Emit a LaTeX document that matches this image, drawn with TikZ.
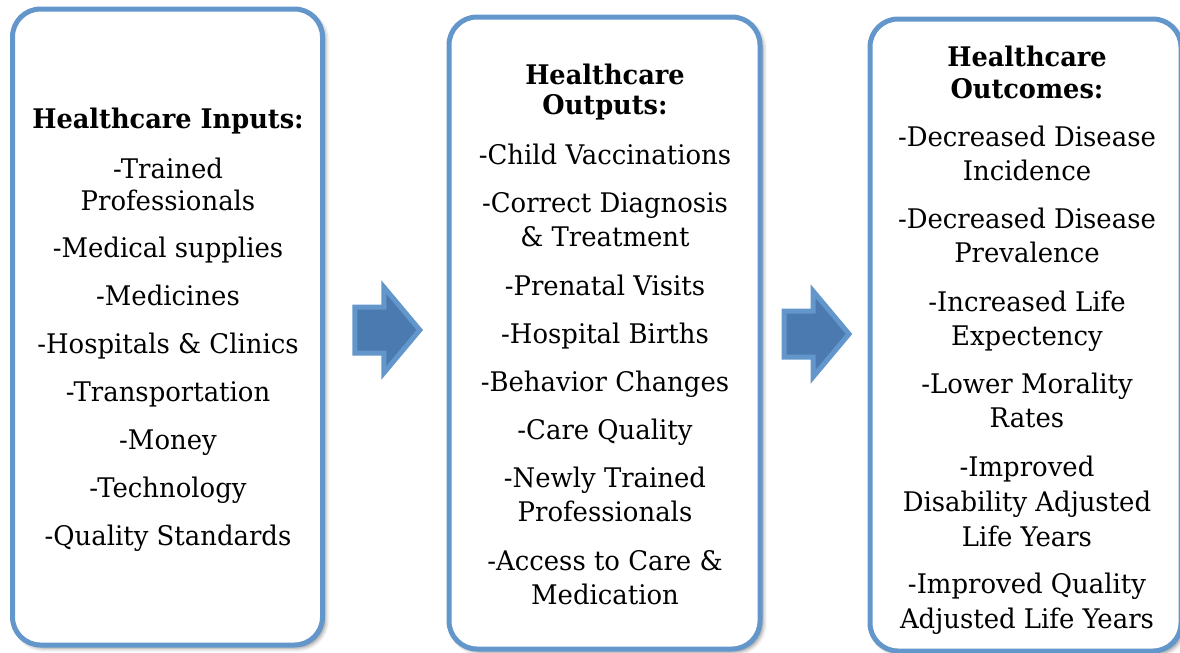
\documentclass[tikz,border=0pt]{standalone}
\usepackage{fontspec}
\setmainfont{DejaVu Serif}[FakeStretch=0.96,BoldFeatures={FakeStretch=0.95}]
\usetikzlibrary{calc,shadows.blur}
\definecolor{panelblue}{RGB}{99,150,202}
\definecolor{arrowblue}{RGB}{74,122,176}
\newcommand{\panelfont}{\fontsize{13.5}{16}\selectfont}
\tikzset{
  panel/.style = {
    draw=panelblue,
    line width=2.5pt,
    rounded corners=14pt,
    fill=white,
    blur shadow={shadow xshift=1.5pt,shadow yshift=-1.5pt,shadow blur radius=2pt,shadow opacity=45}
  },
  blockarrow/.style = {draw=panelblue,fill=arrowblue,line width=2.5pt,line join=miter},
  heading/.style = {anchor=base,font=\panelfont\bfseries},
  entry/.style = {anchor=base,font=\panelfont},
}

\begin{document}
\begin{tikzpicture}[x=0.5pt,y=-0.5pt,inner sep=0pt]
  \path[use as bounding box] (0,0) rectangle (1180,653);
  \clip (0,0) rectangle (1180,653);
  % panels
  \node[panel,minimum width=155pt,minimum height=318pt] (inputs) at (167.5,327) {};
  \node[panel,minimum width=155.5pt,minimum height=316pt] (outputs) at (604.5,333) {};
  \node[panel,minimum width=155.5pt,minimum height=316pt] (outcomes) at (1025.5,335) {};
  % arrows between the panels
  \foreach \a/\b in {inputs/outputs,outputs/outcomes} {%
    \draw[blockarrow] ($($(\a.east)!0.5!(\b.west)$)+(-31,-23)$) -- ++(29,0) -- ++(0,-20) -- ++(36,43) -- ++(-36,43) -- ++(0,-20) -- ++(-29,0) -- cycle;
  }
  % inputs
  \node[heading] (in-title) at (168,128) {Healthcare Inputs:};
  \foreach \y/\t [count=\i] in {178/-Trained,210/Professionals,257/-Medical supplies,305/-Medicines,353/-Hospitals \& Clinics,401/-Transportation,449/-Money,497/-Technology,545/-Quality Standards} {%
    \node[entry] (in-\i) at (168,\y) {\t};
  }
  % outputs
  \foreach \y/\t [count=\i] in {84/Healthcare,114/Outputs:} {%
    \node[heading] (out-title-\i) at (605,\y) {\t};
  }
  \foreach \y/\t [count=\i] in {164/-Child Vaccinations,212/-Correct Diagnosis,246/\& Treatment,295/-Prenatal Visits,343/-Hospital Births,391/-Behavior Changes,439/-Care Quality,487/-Newly Trained,521/Professionals,570/-Access to Care \&,604/Medication} {%
    \node[entry] (out-\i) at (605,\y) {\t};
  }
  % outcomes
  \foreach \y/\t [count=\i] in {66/Healthcare,98/Outcomes:} {%
    \node[heading] (res-title-\i) at (1027,\y) {\t};
  }
  \foreach \y/\t [count=\i] in {146/-Decreased Disease,180/Incidence,228/-Decreased Disease,262/Prevalence,311/-Increased Life,345/Expectency,393/-Lower Morality,427/Rates,476/-Improved,511/Disability Adjusted,546/Life Years,593/-Improved Quality,628/Adjusted Life Years} {%
    \node[entry] (res-\i) at (1027,\y) {\t};
  }
\end{tikzpicture}
\end{document}
